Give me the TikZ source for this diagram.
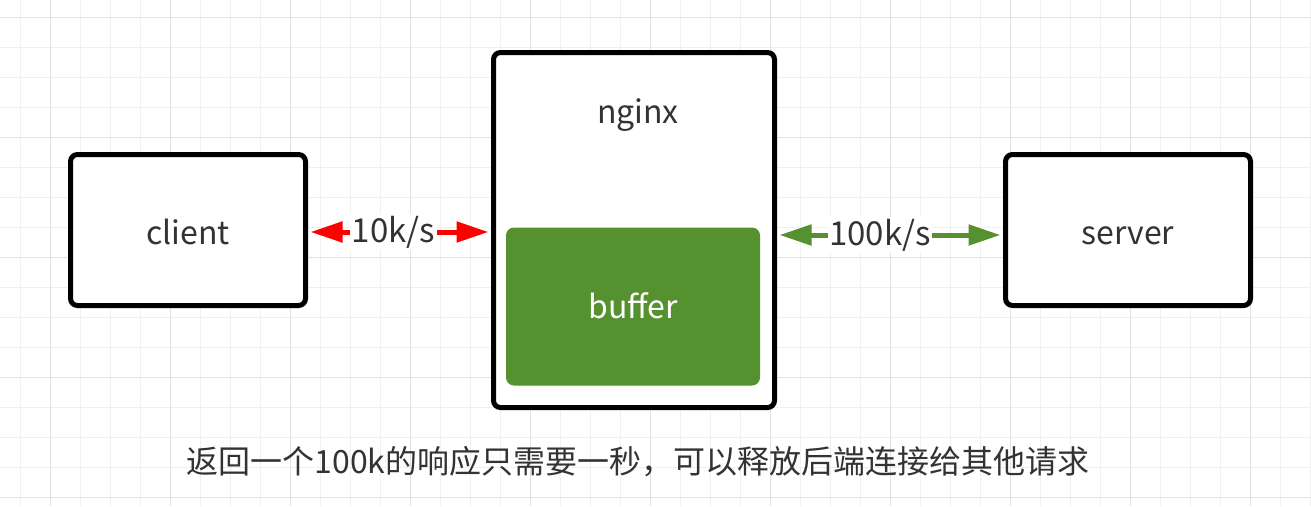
\documentclass[tikz,border=0pt]{standalone}
\usepackage{fontspec}
\setmainfont{Noto Sans CJK SC}
\usetikzlibrary{arrows.meta}
\definecolor{txt}{HTML}{333333}
\definecolor{grn}{RGB}{86,145,48}
\definecolor{gminor}{HTML}{F0F0F0}
\definecolor{gmajor}{HTML}{E2E2E2}
\tikzset{
  box/.style={draw=black, line width=5pt, rounded corners=7pt, fill=white, text=txt, font=\fontsize{32}{38}\selectfont, text height=29pt, text depth=1pt},
  plain/.style={text=txt, font=\fontsize{32}{38}\selectfont, text height=21pt, text depth=9pt},
  lbl/.style={fill=white, text=txt, inner sep=1.5pt, font=\fontsize{33}{38}\selectfont},
  redarrow/.style={draw=red, line width=5pt, {Triangle[length=32pt,width=20pt]}-{Triangle[length=32pt,width=20pt]}, shorten <=2.5pt, shorten >=2.5pt},
  grnarrow/.style={draw=grn, line width=5pt, {Triangle[length=32pt,width=20pt]}-{Triangle[length=32pt,width=20pt]}, shorten <=2.5pt, shorten >=2.5pt}
}
\begin{document}
\begin{tikzpicture}[x=1pt, y=-1pt]
\useasboundingbox (0,0) rectangle (1311,506);
\fill[white] (0,0) rectangle (1311,506);
% grid
\foreach \i in {0,...,43} {
  \draw[gminor, line width=1pt] ({20.7+30*\i},0) -- ({20.7+30*\i},506);
}
\foreach \j in {0,...,16} {
  \draw[gminor, line width=1pt] (0,{17.3+30*\j}) -- (1311,{17.3+30*\j});
}
\foreach \i in {0,...,10} {
  \draw[gmajor, line width=1pt] ({50.7+120*\i},0) -- ({50.7+120*\i},506);
}
\foreach \j in {0,...,4} {
  \draw[gmajor, line width=1pt] (0,{17.3+120*\j}) -- (1311,{17.3+120*\j});
}
% boxes
\node[box, minimum width=235pt, minimum height=151pt] (client) at (188,230) {client};
\node[box, minimum width=281pt, minimum height=355pt] (nginx) at (634,230) {};
\node[plain] (nginxlbl) at (638,117) {nginx};
\node[box, minimum width=245pt, minimum height=151pt] (server) at (1128,230) {server};
\node[fill=grn, rounded corners=8pt, minimum width=254pt, minimum height=158pt] (buffer) at (633,306.5) {};
\node[plain, text=white] (bufferlbl) at (633,312) {buffer};
% arrows
\draw[redarrow] ([yshift=-2pt]client.east) -- ([yshift=-2pt]nginx.west) node[lbl, pos=0.467] (r) {10k/s};
\draw[grnarrow] ([yshift=-5pt]nginx.east) -- ([yshift=-5pt]server.west) node[lbl, pos=0.455] (g) {100k/s};
% caption
\node[text=txt, font=\fontsize{32}{38}\selectfont] (cap) at (638,462) {返回一个100k的响应只需要一秒，可以释放后端连接给其他请求};
\end{tikzpicture}
\end{document}
